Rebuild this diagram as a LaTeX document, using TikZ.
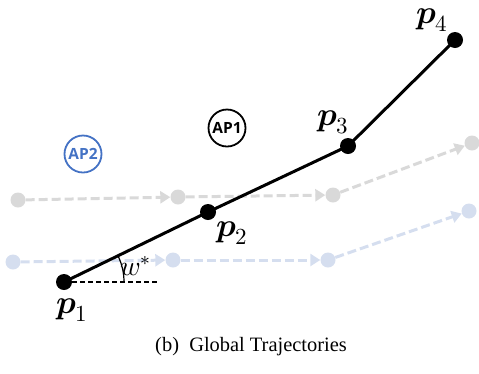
\documentclass[tikz,border=0pt]{standalone}
\usepackage{fontspec}
\setmainfont{Liberation Serif}
\newfontfamily\apfont{Open Sans}
\usepackage{amsmath}
\usepackage{unicode-math}
\setmathfont{Latin Modern Math}
\usetikzlibrary{arrows.meta}
\definecolor{trajgray}{HTML}{D9D9D9}
\definecolor{trajblue}{HTML}{D5DEEF}
\definecolor{apblue}{HTML}{4472C4}
\tikzset{
  blackdot/.style={circle,fill=black,inner sep=0pt,minimum size=16bp},
  graydot/.style={circle,fill=trajgray,inner sep=0pt,minimum size=15bp},
  bluedot/.style={circle,fill=trajblue,inner sep=0pt,minimum size=15bp},
  graytraj/.style={trajgray,line width=3bp,dash pattern=on 9bp off 4bp,-{Triangle[length=10bp,width=12bp]}},
  bluetraj/.style={trajblue,line width=3bp,dash pattern=on 9bp off 4bp,-{Triangle[length=10bp,width=12bp]}},
  gpath/.style={black,line width=3bp},
  plabel/.style={inner sep=0pt,font=\fontsize{33}{38}\selectfont},
  apnode/.style={circle,line width=1.8bp,minimum size=37bp,inner sep=0pt,font=\apfont\bfseries\fontsize{15.5}{18}\selectfont}
}
\begin{document}
\begin{tikzpicture}[x=1bp,y=-1bp]
\useasboundingbox (0,0) rectangle (479,373);
% gray trajectory
\node[graydot] (g1) at (18,200) {};
\node[graydot] (g2) at (178,197) {};
\node[graydot] (g3) at (333,195) {};
\node[graydot] (g4) at (472,143) {};
\draw[graytraj] (g1) -- (g2);
\draw[graytraj] (g2) -- (g3);
\draw[graytraj] (g3) -- (g4);
% blue trajectory
\node[bluedot] (b1) at (13,262) {};
\node[bluedot] (b2) at (173,260) {};
\node[bluedot] (b3) at (328,260) {};
\node[bluedot] (b4) at (469,211) {};
\draw[bluetraj] (b1) -- (b2);
\draw[bluetraj] (b2) -- (b3);
\draw[bluetraj] (b3) -- (b4);
% APs
\node[apnode,draw=apblue,text=apblue] (ap2) at (83,154) {AP2};
\node[apnode,draw=black] (ap1) at (227,128) {AP1};
% global path
\node[blackdot] (p1) at (64,282) {};
\node[blackdot] (p2) at (208,212) {};
\node[blackdot] (p3) at (348,146) {};
\node[blackdot] (p4) at (455,40) {};
\draw[gpath] (p1.center) -- (p2.center) -- (p3.center) -- (p4.center);
\coordinate (h) at (160,282);
\draw[line width=1.2bp,dash pattern=on 5bp off 3bp] (p1.center) -- (h);
\draw[line width=1.2bp] (p1.center) ++(60,0) arc[start angle=0,end angle=-26,radius=60];
\node[inner sep=0pt,font=\fontsize{28}{32}\selectfont] (w) at (136,266) {$w^{*}$};
\node[plabel] (l1) at (72,310) {$\symbfit{p}_1$};
\node[plabel] (l2) at (232,233) {$\symbfit{p}_2$};
\node[plabel] (l3) at (333,122) {$\symbfit{p}_3$};
\node[plabel] (l4) at (432,20) {$\symbfit{p}_4$};
\node[font=\fontsize{20.5}{24}\selectfont] (cap) at (251,347) {(b)~~Global Trajectories};
\end{tikzpicture}
\end{document}
